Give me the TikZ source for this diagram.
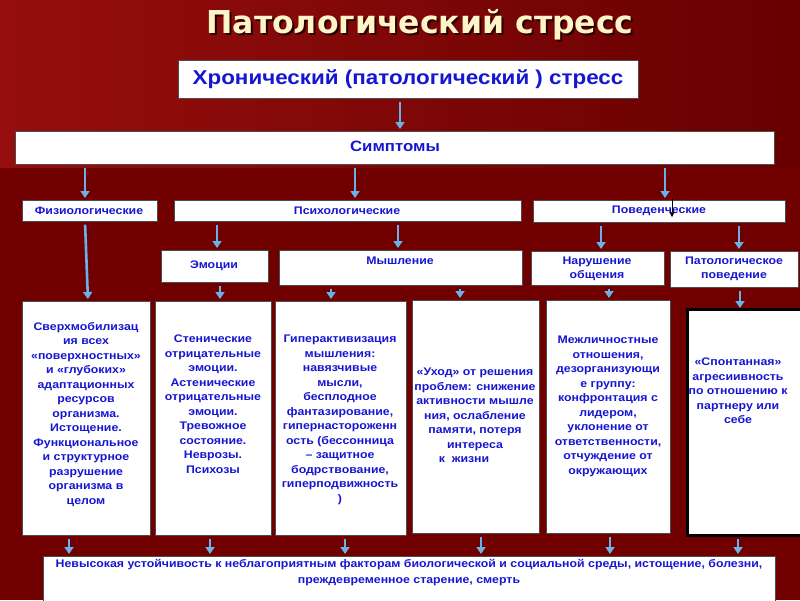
\documentclass[tikz,border=0pt]{standalone}
\usepackage{fontspec}
\setmainfont{Liberation Sans}
\newfontfamily\st[FakeStretch=1.12]{Liberation Sans}
\newfontfamily\ttlfont{DejaVu Sans}
\usetikzlibrary{arrows.meta}
\definecolor{bgA}{RGB}{150,14,14}
\definecolor{bgB}{RGB}{104,0,0}
\definecolor{bgL}{RGB}{112,0,0}
\definecolor{txt}{RGB}{22,22,210}
\definecolor{arr}{RGB}{104,178,232}
\definecolor{ttl}{RGB}{255,244,200}
\definecolor{shd}{RGB}{40,0,0}
\newcommand{\ttltext}{Патологический стресс}
\begin{document}
\begin{tikzpicture}[x=1pt,y=-1pt,
 box/.style={draw=black!70,fill=white,line width=0.6pt,anchor=north west,inner sep=0pt},
 tx/.style={text=txt,font=\st\bfseries\fontsize{11}{14.5}\selectfont,align=center,inner sep=0pt,anchor=north},
 lab/.style={text=txt,font=\st\bfseries\fontsize{11}{14}\selectfont,align=center,inner sep=0pt},
 ar/.style={draw=arr,line width=2.6pt,-{Triangle[length=7pt,width=9pt]},shorten <=3pt,shorten >=2pt},
]
\useasboundingbox (0,0) rectangle (800,600);
\shade[left color=bgA,right color=bgB] (0,0) rectangle (800,168);
\fill[bgL] (0,168) rectangle (800,600);
% title (with shadow in the same node)
\node[text=ttl,font=\ttlfont\bfseries\fontsize{31.5}{36}\selectfont,inner sep=0pt] (title) at (420,26)
  {\makebox[0pt][l]{\hspace*{2pt}\raisebox{-2pt}{\color{shd}\ttltext}}\ttltext};
% boxes
\node[box,minimum width=460pt,minimum height=38pt] (chron) at (178,60) {};
\node[text=txt,font=\st\bfseries\fontsize{20}{24}\selectfont,inner sep=0pt] (chront) at (408,79) {Хронический (патологический ) стресс};
\node[box,minimum width=759pt,minimum height=33pt] (symp) at (15,131) {};
\node[text=txt,font=\st\bfseries\fontsize{15}{18}\selectfont,inner sep=0pt] (sympt) at (395,146) {Симптомы};
\node[box,minimum width=135pt,minimum height=21pt] (phys) at (22,200) {};
\node[lab] at (89,211) {Физиологические};
\node[box,minimum width=347pt,minimum height=21pt] (psych) at (174,200) {};
\node[lab] at (347,211) {Психологические};
\node[box,minimum width=252pt,minimum height=22pt] (behav) at (533,200) {};
\node[lab] at (659,211) {Поведенческие};
\node[box,minimum width=107pt,minimum height=32pt] (emot) at (161,250) {};
\node[lab] at (214,266) {Эмоции};
\node[box,minimum width=243pt,minimum height=35pt] (think) at (279,250) {};
\node[lab] at (400,261) {Мышление};
\node[box,minimum width=133pt,minimum height=34pt] (comm) at (531,251) {};
\node[lab] at (597,269) {Нарушение\\общения};
\node[box,minimum width=128pt,minimum height=36pt] (patho) at (670,251) {};
\node[lab] at (734,269) {Патологическое\\поведение};
% row 4
\node[box,minimum width=128pt,minimum height=234pt] (bA) at (22,301) {};
\node[box,minimum width=116pt,minimum height=234pt] (bB) at (155,301) {};
\node[box,minimum width=131pt,minimum height=234pt] (bC) at (275,301) {};
\node[box,minimum width=127pt,minimum height=233pt] (bD) at (412,300) {};
\node[box,minimum width=124pt,minimum height=233pt] (bE) at (546,300) {};
\node[box,draw=black,line width=3pt,minimum width=114pt,minimum height=226pt] (bF) at (685.5,308) {};
\node[tx] at (86,322) {Сверхмобилизац\\ия всех\\«поверхностных»\\и «глубоких»\\адаптационных\\ресурсов\\организма.\\Истощение.\\Функциональное\\и структурное\\разрушение\\организма в\\целом};
\node[tx] at (213,335) {Стенические\\отрицательные\\эмоции.\\Астенические\\отрицательные\\эмоции.\\Тревожное\\состояние.\\Неврозы.\\Психозы};
\node[tx] at (340,335) {Гиперактивизация\\мышления:\\навязчивые\\мысли,\\бесплодное\\фантазирование,\\гипернастороженн\\ость (бессонница\\– защитное\\бодрствование,\\гиперподвижность\\)};
\node[tx] at (475,368) {«Уход» от решения\\проблем: снижение\\активности  мышле\\ния, ослабление\\памяти, потеря\\интереса\\к~~жизни\hspace*{22pt}};
\node[tx] at (608,336) {Межличностные\\отношения,\\дезорганизующи\\е группу:\\конфронтация с\\лидером,\\уклонение от\\ответственности,\\отчуждение от\\окружающих};
\node[tx] at (738,358) {«Спонтанная»\\агресиивность\\по отношению к\\партнеру или\\себе};
% bottom
\node[box,minimum width=732pt,minimum height=50pt] (bot) at (43,556) {};
\node[text=txt,font=\st\bfseries\fontsize{11}{16}\selectfont,align=center,inner sep=0pt] at (409,573) {Невысокая устойчивость  к неблагоприятным факторам биологической и социальной среды, истощение, болезни,\\преждевременное старение, смерть};
% arrows
\draw[ar] (chron.south -| 400,0) -- (symp.north -| 400,0);
\draw[ar] (symp.south -| 85,0) -- (phys.north -| 85,0);
\draw[ar] (symp.south -| 355,0) -- (psych.north -| 355,0);
\draw[ar] (symp.south -| 665,0) -- (behav.north -| 665,0);
\draw[ar] (phys.south -| 85,0) -- (bA.north -| 88,0);
\draw[ar] (psych.south -| 217,0) -- (emot.north -| 217,0);
\draw[ar] (psych.south -| 398,0) -- (think.north -| 398,0);
\draw[ar] (behav.south -| 601,0) -- (comm.north -| 601,0);
\draw[ar] (behav.south -| 739,0) -- (patho.north -| 739,0);
\draw[ar] (emot.south -| 220,0) -- (bB.north -| 220,0);
\draw[ar] (think.south -| 331,0) -- (bC.north -| 331,0);
\draw[ar] (think.south -| 460,0) -- (bD.north -| 460,0);
\draw[ar] (comm.south -| 609,0) -- (bE.north -| 609,0);
\draw[ar] (patho.south -| 740,0) -- ([yshift=-2pt]bF.north -| 740,0);
\draw[ar] (bA.south -| 69,0) -- (bot.north -| 69,0);
\draw[ar] (bB.south -| 210,0) -- (bot.north -| 210,0);
\draw[ar] (bC.south -| 345,0) -- (bot.north -| 345,0);
\draw[ar] (bD.south -| 481,0) -- (bot.north -| 481,0);
\draw[ar] (bE.south -| 610,0) -- (bot.north -| 610,0);
\draw[ar] ([yshift=1.5pt]bF.south -| 738,0) -- (bot.north -| 738,0);
\coordinate (s1) at (672,198);
\coordinate (s2) at (672,217);
\draw[black,line width=0.6pt,-{Triangle[length=5pt,width=5pt]}] (s1) -- (s2);
\end{tikzpicture}
\end{document}
